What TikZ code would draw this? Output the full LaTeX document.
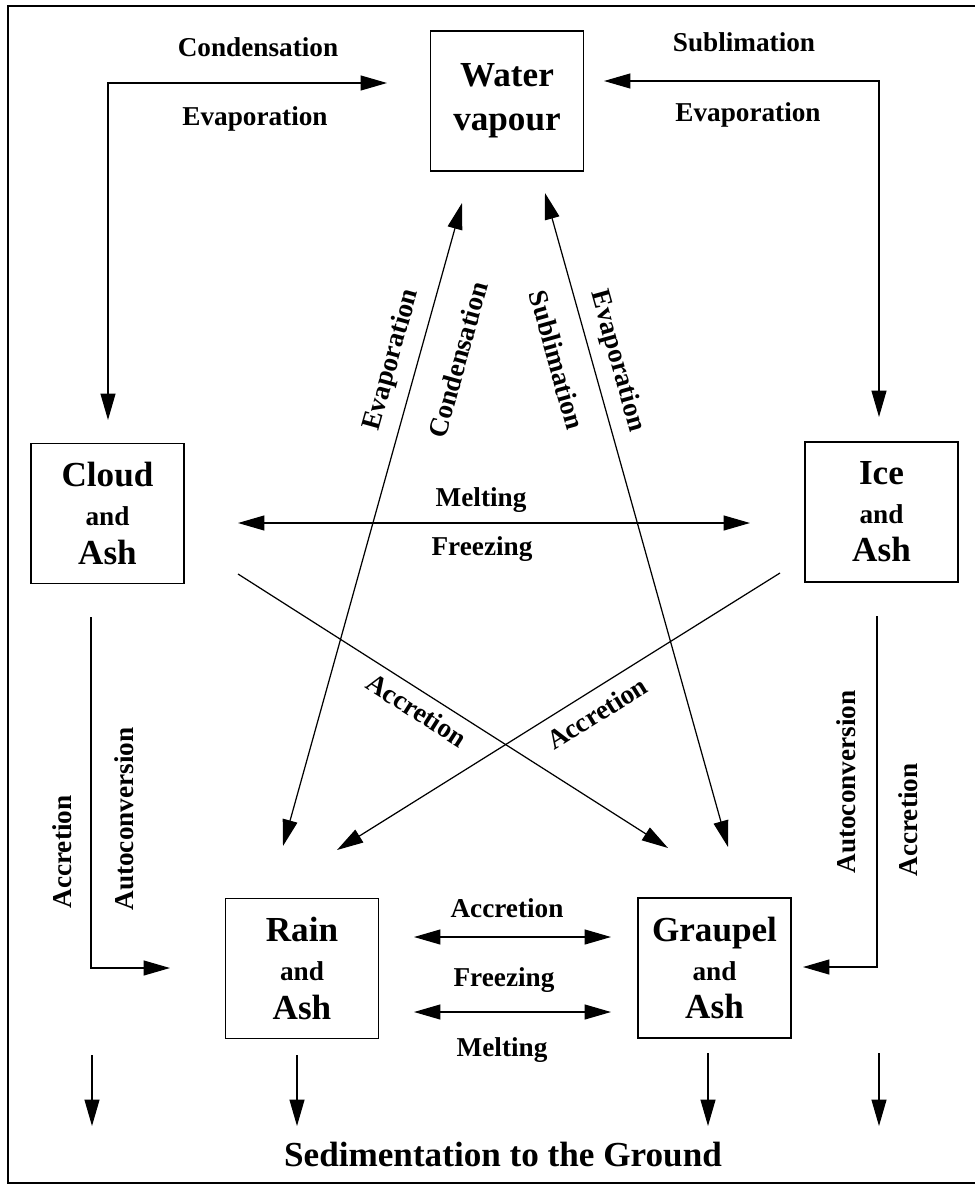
\documentclass[tikz,border=0pt]{standalone}
\usepackage{fontspec}
\setmainfont{Liberation Serif}
\usetikzlibrary{arrows.meta}
\tikzset{%
	box/.style    = {draw, rectangle, line width=1.1pt, minimum width=3.06cm, minimum height=2.8cm, align=center, font=\fontsize{20}{22}\selectfont\bfseries}, % Compartment
	lbl/.style    = {font=\fontsize{15.5}{18}\selectfont\bfseries, inner sep=1pt}, % Process
	sedlbl/.style = {font=\fontsize{20}{24}\selectfont\bfseries}, % Bottom text
	flow/.style   = {line width=0.7pt}, % Connector
	>={Triangle[length=15pt,width=8.5pt]},
}
\newcommand{\andword}{{\fontsize{15.5}{22}\selectfont and}}

\begin{document}
\begin{tikzpicture}[x=0.02cm,y=-0.02cm]
		\useasboundingbox (0,0) rectangle (974,1186);
		\draw[line width=0.9pt] (8,6) rectangle (990,1183);
		% boxes
		\node[box] (wv) at (507,101) {Water\\[3pt]vapour};
		\node[box] (cl) at (107.5,513.5) {Cloud\\\andword\\Ash};
		\node[box] (ic) at (881.5,512) {Ice\\\andword\\Ash};
		\node[box] (rn) at (302,968.5) {Rain\\\andword\\Ash};
		\node[box] (gp) at (714.5,968) {Graupel\\\andword\\Ash};
		% free ends of the connectors
		\coordinate (wvL) at (387,83);
		\coordinate (clT) at (108,420);
		\coordinate (wvR) at (604,81);
		\coordinate (icT) at (879,417);
		\coordinate (wvA) at (462,203);
		\coordinate (rnA) at (283,846);
		\coordinate (wvB) at (545,193);
		\coordinate (gpB) at (728,847);
		\coordinate (clE) at (238,523);
		\coordinate (icW) at (750,523);
		\coordinate (clX) at (238,574);
		\coordinate (gpX) at (668,848);
		\coordinate (icX) at (780,573);
		\coordinate (rnX) at (337,850);
		\coordinate (clS) at (91,617);
		\coordinate (rnW) at (170,968);
		\coordinate (icS) at (877,616);
		\coordinate (gpE) at (803,967);
		\coordinate (rnE1) at (414,937);
		\coordinate (gpW1) at (611,937);
		\coordinate (rnE2) at (414,1012);
		\coordinate (gpW2) at (611,1012);
		% connectors
		\draw[flow,<->] (wvL) -| (clT);
		\draw[flow,<->] (wvR) -| (icT);
		\draw[flow,<->] (rnA) -- (wvA);
		\draw[flow,<->] (wvB) -- (gpB);
		\draw[flow,<->] (clE) -- (icW);
		\draw[flow,->] (clX) -- (gpX);
		\draw[flow,->] (icX) -- (rnX);
		\draw[flow,->] (clS) |- (rnW);
		\draw[flow,->] (icS) |- (gpE);
		\draw[flow,<->] (rnE1) -- (gpW1);
		\draw[flow,<->] (rnE2) -- (gpW2);
		% sedimentation
		\foreach \x/\y in {92/1055, 297/1055, 708/1053, 879/1053}
			\draw[flow,->] (\x,\y) -- (\x,1126);
		\node[sedlbl] (sed) at (503,1155) {Sedimentation to the Ground};
		% process labels
		\node[lbl] (cond1) at (258,47) {Condensation};
		\node[lbl] (evap1) at (255,119) {Evaporation};
		\node[lbl] (subl1) at (744,42) {Sublimation};
		\node[lbl] (evap2) at (748,115) {Evaporation};
		\node[lbl,rotate=74.4] (evap3) at (392,360) {Evaporation};
		\node[lbl,rotate=74.4] (cond2) at (458,360) {Condensation};
		\node[lbl,rotate=-74.4] (subl2) at (557,360) {Sublimation};
		\node[lbl,rotate=-74.4] (evap4) at (617,361) {Evaporation};
		\node[lbl] (melt1) at (481,500) {Melting};
		\node[lbl] (frz1) at (482,549) {Freezing};
		\node[lbl,rotate=-32.5] (acc1) at (417,710) {Accretion};
		\node[lbl,rotate=32] (acc2) at (597,713) {Accretion};
		\node[lbl,rotate=90] (acc3) at (62,852) {Accretion};
		\node[lbl,rotate=90] (auto1) at (124,819) {Autoconversion};
		\node[lbl,rotate=90] (auto2) at (846,782) {Autoconversion};
		\node[lbl,rotate=90] (acc4) at (908,820) {Accretion};
		\node[lbl] (acc5) at (507,908) {Accretion};
		\node[lbl] (frz2) at (504,980) {Freezing};
		\node[lbl] (melt2) at (502,1050) {Melting};
		
		\end{tikzpicture}
\end{document}
